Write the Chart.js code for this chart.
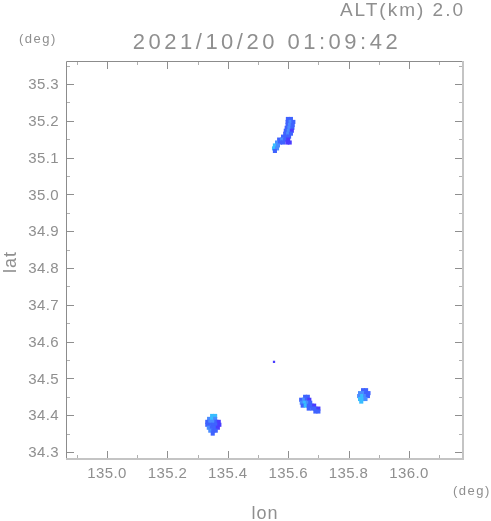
<!DOCTYPE html>
<html>
<head>
<meta charset="utf-8">
<script src="https://cdn.jsdelivr.net/npm/chart.js@4/dist/chart.umd.min.js"></script>
<style>
html,body{margin:0;padding:0;background:#fff;}
#c{display:block;}
</style>
</head>
<body>
<canvas id="c" width="491" height="521"></canvas>
<script>
// ---- DATA (lon, lat, echo level) ----
const titleText = "2021/10/20 01:09:42";
const altText = "ALT(km) 2.0";
const xAxisName = "lon";
const yAxisName = "lat";
const unitText = "(deg)";

const xRange = [134.864, 136.179];
const yRange = [34.281, 35.3625];

const xMajorTicks = [135.0, 135.2, 135.4, 135.6, 135.8, 136.0];
const xMinorTicks = [134.9, 135.1, 135.3, 135.5, 135.7, 135.9, 136.1];
const xTickLabels = ["135.0", "135.2", "135.4", "135.6", "135.8", "136.0"];
const yMajorTicks = [34.3, 34.4, 34.5, 34.6, 34.7, 34.8, 34.9, 35.0, 35.1, 35.2, 35.3];
const yMinorTicks = [34.35, 34.45, 34.55, 34.65, 34.75, 34.85, 34.95, 35.05, 35.15, 35.25, 35.35];
const yTickLabels = ["34.3", "34.4", "34.5", "34.6", "34.7", "34.8", "34.9", "35.0", "35.1", "35.2", "35.3"];

const northCells = [
  [135.599, 35.205, 1], [135.609, 35.205, 1],
  [135.598, 35.197, 1], [135.608, 35.197, 2], [135.617, 35.197, 1],
  [135.598, 35.189, 1], [135.606, 35.189, 2], [135.615, 35.189, 1],
  [135.595, 35.181, 1], [135.604, 35.181, 2], [135.614, 35.181, 1],
  [135.592, 35.173, 1], [135.602, 35.173, 2], [135.612, 35.173, 0],
  [135.590, 35.165, 1], [135.600, 35.165, 2], [135.609, 35.165, 1],
  [135.583, 35.157, 1], [135.593, 35.157, 1], [135.603, 35.157, 1],
  [135.570, 35.149, 1], [135.580, 35.149, 2], [135.590, 35.149, 1], [135.600, 35.149, 0],
  [135.563, 35.141, 2], [135.573, 35.141, 1], [135.583, 35.141, 1], [135.597, 35.141, 0], [135.605, 35.141, 0],
  [135.556, 35.133, 3], [135.566, 35.133, 2],
  [135.553, 35.125, 3], [135.563, 35.125, 2],
  [135.556, 35.118, 1]
];

const eastCells = [
  [135.848, 34.468, 1], [135.858, 34.468, 1],
  [135.838, 34.460, 2], [135.848, 34.460, 2], [135.858, 34.460, 1], [135.866, 34.460, 1],
  [135.835, 34.452, 2], [135.845, 34.452, 3], [135.855, 34.452, 2], [135.864, 34.452, 1],
  [135.838, 34.444, 3], [135.848, 34.444, 3], [135.856, 34.444, 2],
  [135.842, 34.437, 3]
];

const middleCells = [
  [135.656, 34.450, 1], [135.665, 34.450, 1],
  [135.643, 34.442, 1], [135.652, 34.442, 2], [135.662, 34.442, 1], [135.670, 34.442, 0],
  [135.645, 34.434, 2], [135.655, 34.434, 3], [135.665, 34.434, 2], [135.673, 34.434, 1],
  [135.648, 34.426, 1], [135.658, 34.426, 3], [135.668, 34.426, 1], [135.678, 34.426, 1], [135.686, 34.426, 0],
  [135.668, 34.418, 1], [135.680, 34.418, 1], [135.690, 34.418, 1], [135.700, 34.418, 0],
  [135.690, 34.410, 1], [135.700, 34.410, 1]
];

const southwestCells = [
  [135.348, 34.398, 3], [135.358, 34.398, 3],
  [135.338, 34.390, 2], [135.348, 34.390, 3], [135.358, 34.390, 2],
  [135.332, 34.382, 1], [135.342, 34.382, 2], [135.352, 34.382, 2], [135.362, 34.382, 1], [135.370, 34.382, 0],
  [135.332, 34.374, 1], [135.342, 34.374, 1], [135.352, 34.374, 1], [135.362, 34.374, 1], [135.372, 34.374, 0],
  [135.337, 34.366, 2], [135.347, 34.366, 1], [135.357, 34.366, 1], [135.367, 34.366, 0],
  [135.342, 34.358, 2], [135.352, 34.358, 1], [135.360, 34.358, 1],
  [135.350, 34.350, 1]
];

const isolatedCells = [
  [135.553, 34.545, 0]
];

// ---- STYLE ----
const levelColors = ['#4a3cff', '#3f63ff', '#4a8cff', '#38bdff'];
const textColor = '#8f8f8f';
const baseFont = '"Liberation Sans", Arial, sans-serif';

function toPoints(cells) {
  return cells.map(c => ({ x: c[0], y: c[1], level: c[2] }));
}
function makeDataset(label, cells, r) {
  return {
    label: label,
    data: toPoints(cells),
    pointStyle: 'rect',
    pointRadius: r,
    pointHoverRadius: r,
    borderWidth: 0,
    pointBorderWidth: 0,
    showLine: false,
    pointBackgroundColor: ctx => levelColors[ctx.raw ? ctx.raw.level : 1]
  };
}

const framePlugin = {
  id: 'frame',
  afterDraw(chart) {
    const ctx = chart.ctx;
    const { left, right, top, bottom } = chart.chartArea;
    const xs = chart.scales.x, ys = chart.scales.y;
    ctx.save();

    // ticks (inward)
    function vtick(v, len, col) {
      const px = Math.round(xs.getPixelForValue(v)) + 0.5;
      ctx.strokeStyle = col; ctx.lineWidth = 1;
      ctx.beginPath();
      ctx.moveTo(px, bottom); ctx.lineTo(px, bottom - len);
      ctx.moveTo(px, top); ctx.lineTo(px, top + len);
      ctx.stroke();
    }
    function htick(v, len, col) {
      const py = Math.round(ys.getPixelForValue(v)) + 0.5;
      ctx.strokeStyle = col; ctx.lineWidth = 1;
      ctx.beginPath();
      ctx.moveTo(left, py); ctx.lineTo(left + len, py);
      ctx.moveTo(right, py); ctx.lineTo(right - len, py);
      ctx.stroke();
    }
    xMajorTicks.forEach(v => vtick(v, 8, '#8f8f8f'));
    xMinorTicks.forEach(v => vtick(v, 4, '#b0b0b0'));
    yMajorTicks.forEach(v => htick(v, 8, '#8f8f8f'));
    yMinorTicks.forEach(v => { const p = ys.getPixelForValue(v); if (p > top && p < bottom) htick(v, 4, '#b0b0b0'); });

    // frame
    ctx.strokeStyle = '#8c8c8c'; ctx.lineWidth = 1;
    ctx.beginPath();
    ctx.moveTo(left + 0.5, bottom); ctx.lineTo(left + 0.5, top + 0.5); ctx.lineTo(right, top + 0.5);
    ctx.stroke();
    ctx.strokeStyle = '#c4c4c4'; ctx.lineWidth = 2;
    ctx.beginPath();
    ctx.moveTo(right, top); ctx.lineTo(right, bottom); ctx.lineTo(left, bottom);
    ctx.stroke();

    // tick labels
    ctx.fillStyle = textColor;
    ctx.font = '15px ' + baseFont;
    ctx.letterSpacing = '0.4px';
    ctx.textAlign = 'center'; ctx.textBaseline = 'alphabetic';
    xMajorTicks.forEach((v, i) => {
      ctx.fillText(xTickLabels[i], xs.getPixelForValue(v), bottom + 19);
    });
    ctx.textAlign = 'right'; ctx.textBaseline = 'middle';
    yMajorTicks.forEach((v, i) => {
      ctx.fillText(yTickLabels[i], left - 7, ys.getPixelForValue(v) + 1);
    });

    // title
    ctx.textBaseline = 'alphabetic';
    ctx.textAlign = 'center';
    ctx.font = '22px ' + baseFont;
    ctx.letterSpacing = '3.5px';
    ctx.fillText(titleText, 267, 49);

    // altitude
    ctx.textAlign = 'right';
    ctx.font = '19px ' + baseFont;
    ctx.letterSpacing = '2px';
    ctx.fillText(altText, 465, 16);

    // units
    ctx.textAlign = 'left';
    ctx.font = '13px ' + baseFont;
    ctx.letterSpacing = '1.5px';
    ctx.fillText(unitText, 19, 43);
    ctx.fillText(unitText, 453, 495);

    // axis names
    ctx.textAlign = 'center';
    ctx.font = '18px ' + baseFont;
    ctx.letterSpacing = '1px';
    ctx.fillText(xAxisName, 265, 519);
    ctx.save();
    ctx.translate(16, 262);
    ctx.rotate(-Math.PI / 2);
    ctx.fillText(yAxisName, 0, 0);
    ctx.restore();

    ctx.restore();
  }
};

new Chart(document.getElementById('c'), {
  type: 'scatter',
  data: {
    datasets: [
      makeDataset('north', northCells, 2.9),
      makeDataset('east', eastCells, 2.9),
      makeDataset('middle', middleCells, 2.9),
      makeDataset('southwest', southwestCells, 2.9),
      makeDataset('isolated', isolatedCells, 1.6)
    ]
  },
  options: {
    responsive: false,
    animation: false,
    events: [],
    layout: { padding: { left: 66, top: 61, right: 28, bottom: 62 } },
    plugins: { legend: { display: false }, tooltip: { enabled: false }, title: { display: false } },
    scales: {
      x: { type: 'linear', min: xRange[0], max: xRange[1], display: false },
      y: { type: 'linear', min: yRange[0], max: yRange[1], display: false }
    }
  },
  plugins: [framePlugin]
});
</script>
</body>
</html>
